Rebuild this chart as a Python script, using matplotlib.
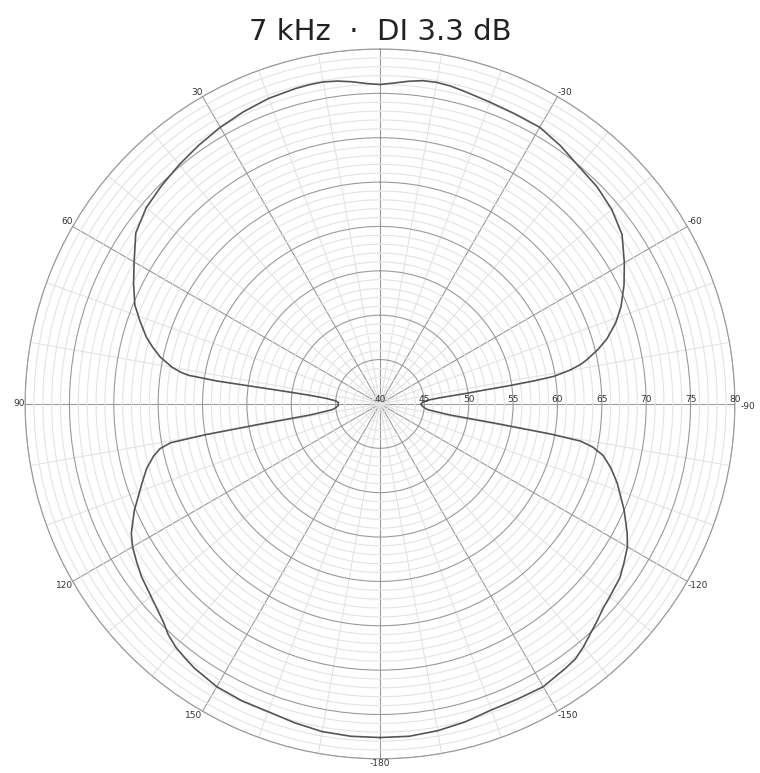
import numpy as np
import matplotlib
matplotlib.use("Agg")
import matplotlib.pyplot as plt

# Angles (deg from front, 0 = top); left side = positive angles, right side = negative
angles_half = [0, 2.5, 5, 7.5, 10, 12.5, 15, 20, 25, 30, 35, 40, 45, 50, 55, 60,
               64, 68, 71, 74, 76, 78, 79, 80, 81, 81.5, 82, 82.5, 83, 84, 85, 86,
               88, 90, 92, 94, 96, 97, 98, 99, 99.5, 100, 100.5, 101.5, 103, 105.5,
               108.5, 113.5, 117.5, 120, 123, 126, 130, 132.5, 135, 137.5, 140,
               142.5, 145, 150, 155, 160, 165, 170, 175, 180]
# measured level (dB) on the left (+) side
level_left = [76.0, 76.15, 76.45, 76.7, 76.85, 76.85, 76.8, 76.65, 76.35, 76.0,
              75.6, 75.2, 74.8, 74.4, 73.6, 72.0, 70.9, 69.8, 68.6, 67.4, 66.4,
              65.3, 64.5, 63.8, 62.7, 61.8, 58.5, 50.5, 48.0, 46.2, 45.5, 45.0,
              44.7, 44.7, 44.7, 44.9, 45.2, 45.5, 46.5, 48.0, 53.0, 60.0, 64.0,
              65.3, 66.2, 67.3, 68.3, 70.2, 71.6, 72.2, 72.7, 73.2, 73.7, 74.1,
              74.6, 75.3, 75.8, 76.1, 76.4, 76.8, 76.9, 76.9, 77.2, 77.5, 77.6,
              77.6]
# measured level (dB) on the right (-) side
level_right = [76.0, 76.2, 76.5, 76.75, 76.8, 76.7, 76.5, 76.2, 76.05, 76.0,
               75.5, 74.9, 74.6, 74.1, 73.3, 71.8, 70.6, 69.3, 68.1, 66.6, 65.3,
               63.8, 62.9, 61.6, 59.8, 57.5, 54.5, 51.5, 49.9, 47.0, 45.8, 45.2,
               44.8, 44.6, 44.7, 44.9, 45.2, 45.5, 46.5, 48.0, 53.0, 59.5, 63.0,
               64.5, 65.8, 67.0, 68.2, 70.0, 71.4, 72.2, 72.8, 73.4, 73.8, 74.1,
               74.6, 75.1, 75.7, 76.2, 76.4, 76.8, 76.7, 76.7, 77.1, 77.4, 77.6,
               77.6]

r_min, r_max = 40, 80
major_rings = list(range(45, 81, 5))
minor_rings = list(range(41, 80))
radial_labels = list(range(40, 81, 5))
major_spokes = list(range(0, 360, 30))
minor_spokes = list(range(0, 360, 10))
angle_ticks = [30, 60, 90, 120, 150, 180, -150, -120, -90, -60, -30]
angle_texts = ["30", "60", "90", "120", "150", "-180", "-150", "-120", "-90", "-60", "-30"]

# full circle: right side then left side
theta_deg = [-a for a in angles_half[::-1]] + angles_half[1:]
levels = level_right[::-1] + level_left[1:]
theta = np.deg2rad(theta_deg)

fig = plt.figure(figsize=(7.6, 7.73), dpi=100)
ax = fig.add_axes([0.033, 0.0182, 0.934, 0.9185], projection="polar")
ax.set_theta_zero_location("N")
ax.set_theta_direction(1)
ax.set_ylim(r_min, r_max)

ax.set_yticks(major_rings)
ax.set_yticks(minor_rings, minor=True)
ax.set_xticks(np.deg2rad(major_spokes))
ax.set_xticks(np.deg2rad(minor_spokes), minor=True)
ax.set_yticklabels([])
ax.set_xticklabels([])
ax.tick_params(which="both", length=0)

ax.grid(which="minor", color="#e3e3e3", linewidth=0.8)
ax.grid(which="major", color="#9a9a9a", linewidth=0.8)
ax.set_axisbelow(True)
ax.spines["polar"].set_color("#9a9a9a")
ax.spines["polar"].set_linewidth(0.8)

ax.plot(theta, levels, color="#555555", linewidth=1.2, zorder=5)

# radial labels along the right-hand spoke
for r in radial_labels:
    ax.text(np.deg2rad(-90), r, str(r), ha="center", va="bottom",
            fontsize=6.5, color="#333333", zorder=6)

# angle labels just outside the outer ring
for a, txt in zip(angle_ticks, angle_texts):
    s = np.sin(np.deg2rad(a))   # >0 -> left side
    c = np.cos(np.deg2rad(a))   # >0 -> top
    ha = "center" if abs(s) < 0.1 else ("right" if s > 0 else "left")
    va = "center" if abs(c) < 0.1 else ("bottom" if c > 0 else "top")
    dx, dy = 0, 0
    if a == -90:
        dx, dy = 4, -2
    ax.annotate(txt, xy=(np.deg2rad(a), r_max), xytext=(dx, dy),
                textcoords="offset points", ha=ha, va=va,
                fontsize=6.5, color="#333333", annotation_clip=False)

fig.text(0.5, 1 - 32 / 773, "7 kHz  \u00b7  DI 3.3 dB", ha="center", va="center",
         fontsize=21, color="#222222")

fig.savefig("out.png", dpi=100, facecolor="white")
